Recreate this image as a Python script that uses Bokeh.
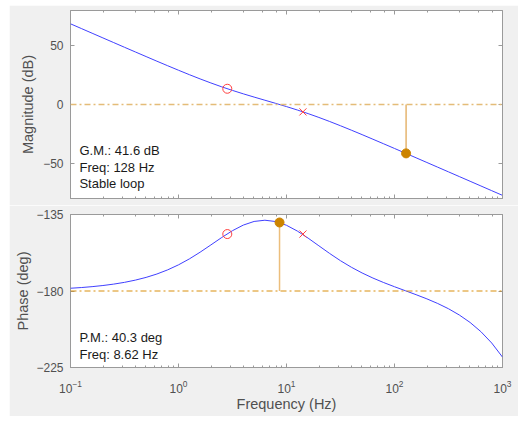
from bokeh.plotting import figure
from bokeh.layouts import column
from bokeh.models import (Range1d, LogAxis, LinearAxis, FixedTicker, LogTicker,
                          Label, Span, CustomJSTickFormatter)
from bokeh.embed import file_html
from bokeh.resources import INLINE

# ---- data ----
freq_hz = [0.1, 0.1259, 0.1585, 0.1995, 0.2512, 0.3162, 0.3981, 0.5012, 0.631, 0.7943,
           1.0, 1.259, 1.585, 1.995, 2.512, 3.162, 3.981, 5.012, 6.31, 7.943,
           10.0, 12.59, 15.85, 19.95, 25.12, 31.62, 39.81, 50.12, 63.1, 79.43,
           100.0, 125.9, 158.5, 199.5, 251.2, 316.2, 398.1, 501.2, 631.0, 794.3, 1000.0]
mag_db = [68.67, 64.67, 60.67, 56.68, 52.69, 48.71, 44.74, 40.79, 36.86, 32.98,
          29.15, 25.41, 21.79, 18.33, 15.05, 11.97, 9.07, 6.32, 3.64, 0.96,
          -1.79, -4.68, -7.75, -11.02, -14.48, -18.09, -21.83, -25.65, -29.54, -33.46,
          -37.41, -41.38, -45.36, -49.35, -53.34, -57.34, -61.34, -65.33, -69.33, -73.33, -77.33]
phase_deg = [-178.38, -177.97, -177.44, -176.78, -175.95, -174.91, -173.61, -172.00, -170.00, -167.56,
             -164.61, -161.14, -157.18, -152.89, -148.54, -144.51, -141.23, -139.09, -138.37, -139.14,
             -141.35, -144.73, -148.89, -153.42, -157.94, -162.18, -166.01, -169.39, -172.38, -175.04,
             -177.49, -179.83, -182.17, -184.63, -187.34, -190.44, -194.11, -198.51, -203.91, -210.58, -218.88]

zero_freq = [2.83]
zero_mag = [13.4]
zero_phase = [-146.5]
pole_freq = [14.2]
pole_mag = [-6.3]
pole_phase = [-146.5]

gm_db = 41.6
gm_freq = 128.0
pm_deg = 40.3
pm_freq = 8.62

mag_ticks = [-50, 0, 50]
phase_ticks = [-225, -180, -135]

gm_lines = ["G.M.: 41.6 dB", "Freq: 128 Hz", "Stable loop"]
pm_lines = ["P.M.: 40.3 deg", "Freq: 8.62 Hz"]

# ---- styling ----
BG = "#F0F0F0"
BOX = "#9a9a9a"
TXT = "#505050"
FONT = "Liberation Sans"
CURVE = "#4040ff"
RED = "#ff4040"
ORANGE = "#cc8400"
DASH = "6 3 2 3"


def style_axis(ax, labels=True):
    ax.axis_line_color = None
    ax.major_tick_line_color = BOX
    ax.minor_tick_line_color = BOX
    ax.major_tick_in = 4
    ax.major_tick_out = 0
    ax.minor_tick_in = 2
    ax.minor_tick_out = 0
    ax.major_label_text_color = TXT
    ax.major_label_text_font = FONT
    ax.major_label_text_font_size = "12px"
    ax.axis_label_text_color = TXT
    ax.axis_label_text_font = FONT
    ax.axis_label_text_font_size = "14.5px"
    ax.axis_label_text_font_style = "normal"
    if not labels:
        ax.formatter = CustomJSTickFormatter(code="return ''")
        ax.major_label_standoff = 0


def make_fig(y0, y1, fh, top, bottom):
    p = figure(x_axis_type="log", x_range=Range1d(0.1, 1000), y_range=Range1d(y0, y1),
               frame_width=432, frame_height=fh,
               min_border_left=61, min_border_right=16, min_border_top=top, min_border_bottom=bottom,
               output_backend="svg", toolbar_location=None,
               background_fill_color="white", border_fill_color=BG,
               outline_line_color=BOX, outline_line_width=1)
    p.grid.visible = False
    return p


# ---- magnitude ----
p1 = make_fig(-80, 80, 188, 5, 7)
p1.yaxis.ticker = FixedTicker(ticks=mag_ticks, minor_ticks=[])
style_axis(p1.yaxis[0])
p1.yaxis[0].axis_label = "Magnitude (dB)"
p1.yaxis[0].major_label_standoff = 7
p1.yaxis[0].axis_label_standoff = 4
style_axis(p1.xaxis[0], labels=False)
ax_top = LogAxis(ticker=LogTicker())
style_axis(ax_top, labels=False)
p1.add_layout(ax_top, "above")
ax_r = LinearAxis(ticker=FixedTicker(ticks=mag_ticks, minor_ticks=[]))
style_axis(ax_r, labels=False)
p1.add_layout(ax_r, "right")

p1.add_layout(Span(location=0, dimension="width", line_color="#e4bc78",
                   line_width=1.5, line_dash=DASH))
p1.line(freq_hz, mag_db, line_color=CURVE, line_width=1)
p1.segment(x0=[gm_freq], y0=[0], x1=[gm_freq], y1=[-gm_db], line_color="#dea24a", line_width=1.2)
p1.scatter(zero_freq, zero_mag, marker="circle", size=9, fill_color=None,
           line_color=RED, line_width=1)
p1.scatter(pole_freq, pole_mag, marker="x", size=10, line_color=RED, line_width=1)
p1.scatter([gm_freq], [-gm_db], marker="circle", size=9, fill_color=ORANGE, line_color=ORANGE)

for txt, yy in zip(gm_lines, [-39.1, -53.4, -67.2]):
    p1.add_layout(Label(x=0.121, y=yy, text=txt, text_baseline="middle", text_font=FONT,
                        text_font_size="13px", text_color="#1a1a1a"))

# ---- phase ----
p2 = make_fig(-225, -135, 153, 9, 49)
p2.yaxis.ticker = FixedTicker(ticks=phase_ticks, minor_ticks=[])
style_axis(p2.yaxis[0])
p2.yaxis[0].axis_label = "Phase (deg)"
p2.yaxis[0].major_label_standoff = 7
p2.yaxis[0].axis_label_standoff = 2
style_axis(p2.xaxis[0])
p2.xaxis[0].axis_label = "Frequency (Hz)"
p2.xaxis[0].major_label_standoff = 12
p2.xaxis[0].axis_label_standoff = 0
ax_top2 = LogAxis(ticker=LogTicker())
style_axis(ax_top2, labels=False)
p2.add_layout(ax_top2, "above")
ax_r2 = LinearAxis(ticker=FixedTicker(ticks=phase_ticks, minor_ticks=[]))
style_axis(ax_r2, labels=False)
p2.add_layout(ax_r2, "right")

p2.add_layout(Span(location=-180, dimension="width", line_color="#d98f0c",
                   line_width=1, line_dash=DASH))
p2.line(freq_hz, phase_deg, line_color=CURVE, line_width=1)
p2.segment(x0=[pm_freq], y0=[-180], x1=[pm_freq], y1=[-180 + pm_deg],
           line_color="#ecbe7c", line_width=1.5)
p2.scatter(zero_freq, zero_phase, marker="circle", size=9, fill_color=None,
           line_color=RED, line_width=1)
p2.scatter(pole_freq, pole_phase, marker="x", size=10, line_color=RED, line_width=1)
p2.scatter([pm_freq], [-180 + pm_deg], marker="circle", size=9, fill_color=ORANGE, line_color=ORANGE)

for txt, yy in zip(pm_lines, [-207.2, -217.4]):
    p2.add_layout(Label(x=0.121, y=yy, text=txt, text_baseline="middle", text_font=FONT,
                        text_font_size="13px", text_color="#1a1a1a"))

layout = column(p1, p2, spacing=0, margin=(5, 0, 0, 9))
open("out.html", "w").write(file_html(layout, INLINE))
